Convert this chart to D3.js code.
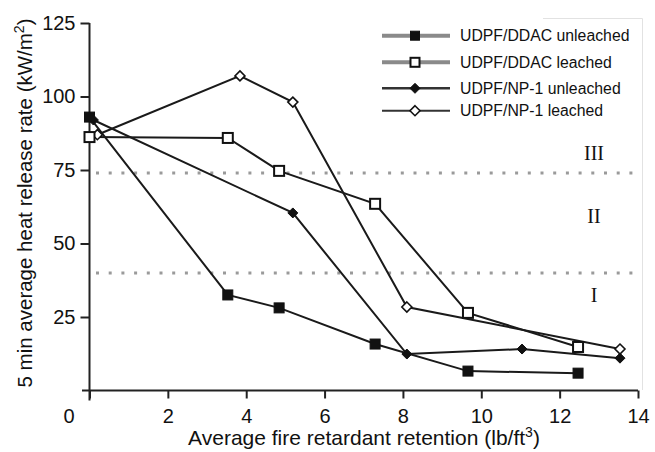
<!DOCTYPE html>
<html><head><meta charset="utf-8">
<script src="https://cdn.jsdelivr.net/npm/d3@7"></script>
<style>
body{margin:0;background:#fff;}
svg{display:block;font-family:Arial,"Liberation Sans",sans-serif;}
</style></head>
<body>
<svg id="c" width="655" height="452"></svg>
<script>
const seriesNames = ["UDPF/DDAC unleached","UDPF/DDAC leached","UDPF/NP-1 unleached","UDPF/NP-1 leached"];
const ddacUnleachedX = [0, 3.53, 4.84, 7.29, 9.66, 12.47];
const ddacUnleachedY = [93.0, 32.5, 28.1, 15.8, 6.6, 5.9];
const ddacLeachedX = [0, 3.53, 4.84, 7.29, 9.66, 12.47];
const ddacLeachedY = [86.2, 85.9, 74.7, 63.5, 26.4, 14.8];
const np1UnleachedX = [0.1, 5.19, 8.1, 11.04, 13.54];
const np1UnleachedY = [92.0, 60.4, 12.4, 14.1, 11.0];
const np1LeachedX = [0.2, 3.84, 5.19, 8.1, 13.54];
const np1LeachedY = [87.0, 107.0, 98.1, 28.4, 14.1];
const xTicks = [0,2,4,6,8,10,12,14];
const yTicks = [25,50,75,100,125];
const thresholds = [74, 40];
const zoneLabels = ["III","II","I"];
const zoneLabelY = [78.4, 57, 30];

const svg = d3.select("#c");
const x = d3.scaleLinear().domain([0,14]).range([89.5,638]);
const y = d3.scaleLinear().domain([0,125]).range([390.5,23]);

// faint frame
svg.append("path").attr("d","M543,18.5H642.5V390").attr("fill","none").attr("stroke","#e2e2e2").attr("stroke-width",1);

// threshold dotted lines
svg.selectAll(".thr").data(thresholds).join("line")
  .attr("x1",96).attr("x2",636)
  .attr("y1",d=>y(d)).attr("y2",d=>y(d))
  .attr("stroke","#9a9a9a").attr("stroke-width",3)
  .attr("stroke-dasharray","3,9.7");

// zone labels
svg.selectAll(".zone").data(zoneLabels).join("text")
  .attr("x",594).attr("y",(d,i)=>y(zoneLabelY[i]))
  .attr("text-anchor","middle")
  .attr("font-family","'Liberation Serif','Times New Roman',serif")
  .attr("font-size",20).attr("fill","#111").text(d=>d);

// axes
const gx = svg.append("g").attr("transform",`translate(0,${y(0)})`)
  .call(d3.axisBottom(x).tickValues(xTicks).tickSize(8).tickSizeOuter(0).tickFormat(d3.format("d")));
gx.select(".domain").remove();
gx.selectAll(".tick line").attr("stroke","#222").attr("stroke-width",2);
gx.selectAll(".tick text").attr("font-size",20).attr("fill","#111").attr("dy","1.05em")
  .attr("font-family","Arial,'Liberation Sans',sans-serif")
  .attr("dx",d=>d===0?-21:0);
svg.append("line").attr("x1",82).attr("x2",638).attr("y1",y(0)).attr("y2",y(0)).attr("stroke","#222").attr("stroke-width",2);

const gy = svg.append("g").attr("transform",`translate(${x(0)},0)`)
  .call(d3.axisLeft(y).tickValues(yTicks).tickSize(9).tickSizeOuter(0));
gy.select(".domain").remove();
gy.selectAll(".tick line").attr("stroke","#222").attr("stroke-width",2);
gy.selectAll(".tick text").attr("font-size",20).attr("fill","#111").attr("x",-14)
  .attr("font-family","Arial,'Liberation Sans',sans-serif");
svg.append("line").attr("x1",x(0)).attr("x2",x(0)).attr("y1",y(125)).attr("y2",y(0)+10).attr("stroke","#222").attr("stroke-width",2);

// axis titles
const xt = svg.append("text").attr("x",364).attr("y",445).attr("text-anchor","middle").attr("font-size",21).attr("fill","#111");
xt.append("tspan").text("Average fire retardant retention (lb/ft");
xt.append("tspan").attr("font-size",14).attr("dy",-8).text("3");
xt.append("tspan").attr("dy",8).text(")");

const yt = svg.append("text").attr("transform","translate(32,203) rotate(-90)").attr("text-anchor","middle").attr("font-size",20.5).attr("fill","#111");
yt.append("tspan").text("5 min average heat release rate (kW/m");
yt.append("tspan").attr("font-size",14).attr("dy",-8).text("2");
yt.append("tspan").attr("dy",8).text(")");

// series
const series = [
  {xs:ddacUnleachedX, ys:ddacUnleachedY, marker:"square", fill:"#111"},
  {xs:ddacLeachedX, ys:ddacLeachedY, marker:"square", fill:"#fff"},
  {xs:np1UnleachedX, ys:np1UnleachedY, marker:"diamond", fill:"#111"},
  {xs:np1LeachedX, ys:np1LeachedY, marker:"diamond", fill:"#fff"}
];
const line = d3.line().x(d=>x(d[0])).y(d=>y(d[1]));
const drawOrder = [3,2,1,0];
drawOrder.forEach(i=>{
  const s = series[i];
  const pts = s.xs.map((v,j)=>[v,s.ys[j]]);
  svg.append("path").attr("d",line(pts)).attr("fill","none").attr("stroke","#1a1a1a").attr("stroke-width",2);
});
function marker(g, type, fill, cx, cy, big){
  if(type==="square"){
    const s = big||10;
    g.append("rect").attr("x",cx-s/2).attr("y",cy-s/2).attr("width",s).attr("height",s)
      .attr("fill",fill).attr("stroke","#111").attr("stroke-width",fill==="#fff"?2:1);
  } else {
    const r = big||5;
    g.append("path").attr("d",`M${cx},${cy-r}L${cx+r},${cy}L${cx},${cy+r}L${cx-r},${cy}Z`)
      .attr("fill",fill).attr("stroke","#111").attr("stroke-width",fill==="#fff"?1.6:1);
  }
}
drawOrder.forEach(i=>{
  const s = series[i];
  const g = svg.append("g");
  s.xs.forEach((v,j)=>marker(g,s.marker,s.fill,x(v),y(s.ys[j])));
});

// legend
const legY = [35.7, 62.3, 88.3, 110.7];
const legStroke = [["#8a8a8a",4],["#8a8a8a",4],["#333",2.5],["#333",2]];
series.forEach((s,i)=>{
  const g = svg.append("g");
  g.append("line").attr("x1",382).attr("x2",450).attr("y1",legY[i]).attr("y2",legY[i])
    .attr("stroke",legStroke[i][0]).attr("stroke-width",legStroke[i][1]);
  marker(g,s.marker,s.fill,415,legY[i], s.marker==="square"?9:5);
  g.append("text").attr("x",460).attr("y",legY[i]).attr("dy","0.36em").attr("font-size",15.8).attr("fill","#111").text(seriesNames[i]);
});
</script>
</body></html>
